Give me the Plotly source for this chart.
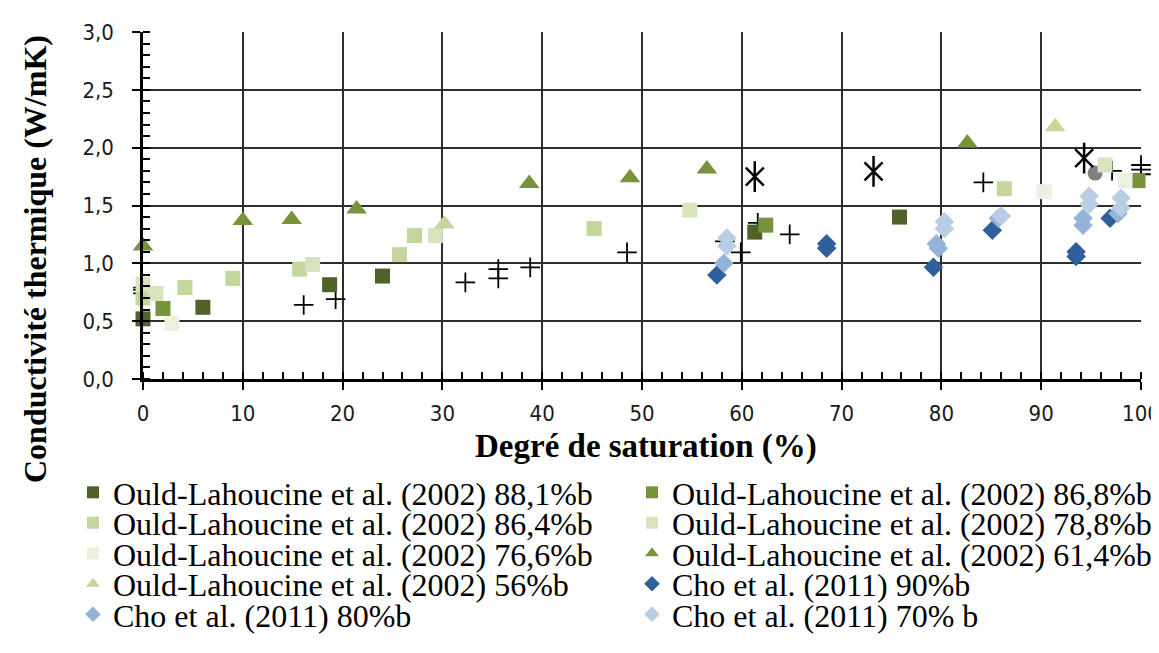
import plotly.graph_objects as go

# ---------------- data ----------------
x_tick_vals = [0, 10, 20, 30, 40, 50, 60, 70, 80, 90, 100]
x_tick_text = ["0", "10", "20", "30", "40", "50", "60", "70", "80", "90", "100"]
y_tick_vals = [0.0, 0.5, 1.0, 1.5, 2.0, 2.5, 3.0]
y_tick_text = ["0,0", "0,5", "1,0", "1,5", "2,0", "2,5", "3,0"]

names = [
    "Ould-Lahoucine et al. (2002) 88,1%b",
    "Ould-Lahoucine et al. (2002) 86,8%b",
    "Ould-Lahoucine et al. (2002) 86,4%b",
    "Ould-Lahoucine et al. (2002) 78,8%b",
    "Ould-Lahoucine et al. (2002) 76,6%b",
    "Ould-Lahoucine et al. (2002) 61,4%b",
    "Ould-Lahoucine et al. (2002) 56%b",
    "Cho et al. (2011) 90%b",
    "Cho et al. (2011) 80%b",
    "Cho et al. (2011) 70% b",
]

ol881_x = [0, 6.0, 18.7, 24.0, 61.3, 75.8]
ol881_y = [0.52, 0.62, 0.815, 0.89, 1.27, 1.40]

ol868_x = [2.0, 62.4, 99.7]
ol868_y = [0.61, 1.33, 1.715]

ol864_x = [0, 4.2, 9.0, 15.7, 25.7, 27.2, 45.2, 86.3]
ol864_y = [0.70, 0.79, 0.87, 0.95, 1.075, 1.24, 1.30, 1.645]

ol788_x = [0, 1.3, 17.0, 29.3, 54.8, 96.4]
ol788_y = [0.82, 0.74, 0.99, 1.24, 1.46, 1.85]

ol766_x = [2.9, 90.3, 98.4]
ol766_y = [0.48, 1.62, 1.715]

ol614_x = [0, 10, 14.9, 21.4, 38.7, 48.8, 56.5, 82.6]
ol614_y = [1.15, 1.37, 1.38, 1.47, 1.69, 1.74, 1.815, 2.04]

ol56_x = [30.2, 91.4]
ol56_y = [1.34, 2.18]

cho90_x = [57.5, 68.5, 68.5, 79.2, 85.1, 93.5, 93.5, 96.9]
cho90_y = [0.90, 1.13, 1.17, 0.966, 1.285, 1.06, 1.10, 1.39]

cho80_x = [58.2, 79.7, 79.5, 85.7, 94.2, 94.2, 97.7]
cho80_y = [1.00, 1.13, 1.17, 1.39, 1.33, 1.39, 1.43]

cho70_x = [58.5, 58.5, 80.3, 80.3, 86.0, 94.8, 94.8, 98.0, 98.0]
cho70_y = [1.22, 1.15, 1.30, 1.36, 1.41, 1.51, 1.58, 1.48, 1.565]

plus_x = [0, 0, 0, 16.1, 19.3, 32.3, 35.6, 35.6, 38.8, 48.5, 58.3, 59.9, 61.6, 64.8, 84.2, 97.1, 100, 100, 100]
plus_y = [0.79, 0.77, 0.74, 0.64, 0.69, 0.835, 0.87, 0.95, 0.965, 1.095, 1.19, 1.095, 1.35, 1.25, 1.70, 1.80, 1.85, 1.81, 1.77]

star_x = [61.3, 73.2, 94.3]
star_y = [1.75, 1.795, 1.91]

circle_x = [95.4]
circle_y = [1.78]

# ---------------- styles ----------------
series = [
    (ol881_x, ol881_y, "square", "#4F6228", 15),
    (ol868_x, ol868_y, "square", "#77933C", 15),
    (ol864_x, ol864_y, "square", "#C3D69B", 15),
    (ol788_x, ol788_y, "square", "#D7E4BD", 15),
    (ol766_x, ol766_y, "square", "#EBF1DE", 15),
    (ol614_x, ol614_y, "triangle-up", "#77933C", 18),
    (ol56_x, ol56_y, "triangle-up", "#C3D69B", 18),
    (cho90_x, cho90_y, "diamond", "#30609C", 15),
    (cho80_x, cho80_y, "diamond", "#95B3D7", 15),
    (cho70_x, cho70_y, "diamond", "#B9CDE5", 15),
]

fig = go.Figure()

# unlabeled series (drawn first)
fig.add_trace(go.Scatter(x=plus_x, y=plus_y, mode="markers", showlegend=False, cliponaxis=False,
                         marker=dict(symbol="cross-thin-open", size=14, color="black",
                                     line=dict(color="black", width=1.8))))
fig.add_trace(go.Scatter(x=circle_x, y=circle_y, mode="markers", showlegend=False, cliponaxis=False,
                         marker=dict(symbol="circle", size=15, color="#808080")))

legend_ids = ["legend"] + ["legend%d" % (i + 1) for i in range(1, len(series))]
for i, (xs, ys, sym, col, sz) in enumerate(series):
    fig.add_trace(go.Scatter(x=xs, y=ys, mode="markers", name=names[i], cliponaxis=False,
                             legend=legend_ids[i],
                             marker=dict(symbol=sym, size=sz, color=col, line=dict(width=0))))

fig.add_trace(go.Scatter(x=star_x, y=star_y, mode="markers", showlegend=False, cliponaxis=False,
                         marker=dict(symbol="x-thin-open", size=18, color="black",
                                     line=dict(color="black", width=2.5))))
fig.add_trace(go.Scatter(x=star_x, y=star_y, mode="markers", showlegend=False, cliponaxis=False,
                         marker=dict(symbol="line-ns-open", size=22, color="black",
                                     line=dict(color="black", width=2.5))))

# ---------------- layout ----------------
L, R, T, B = 135, 26, 24, 282
W, H = 1159, 653
ph = H - T - B
pw = W - L - R

def px2x(p):
    return (p - L) / pw

def py2y(p):
    return (H - B - p) / ph

legend_font = dict(family="Liberation Serif, Times New Roman, serif", size=32, color="black")
row_centers = [484, 514.5, 545, 575.5, 606]
col_text_start = [105, 664]
layout_legends = {}
for i, lid in enumerate(legend_ids):
    col = i % 2
    row = i // 2
    layout_legends[lid] = dict(
        x=px2x(col_text_start[col] - 40), xanchor="left",
        y=py2y(row_centers[row] - 27), yanchor="top",
        font=legend_font, bgcolor="rgba(0,0,0,0)", borderwidth=0,
        itemsizing="constant", itemclick=False,
    )

tick_font = dict(family="DejaVu Sans Condensed, Liberation Sans Narrow, DejaVu Sans, sans-serif",
                 size=22, color="#1a1a1a")
grid_col = "#2e2e2e"

fig.update_layout(
    width=W, height=H,
    margin=dict(l=L, r=R, t=T, b=B, autoexpand=False),
    paper_bgcolor="white", plot_bgcolor="white",
    showlegend=True,
    **layout_legends,
    xaxis=dict(range=[0, 100], tickvals=x_tick_vals, ticktext=x_tick_text,
               showgrid=True, gridcolor=grid_col, gridwidth=1.6,
               showline=True, linecolor="black", linewidth=2.5,
               ticks="outside", ticklen=8, tickwidth=2, tickcolor="black",
               minor=dict(dtick=2, ticks="inside", ticklen=7, tickwidth=1.5, tickcolor="black", showgrid=False),
               tickfont=tick_font, ticklabelstandoff=5, zeroline=False, fixedrange=True),
    yaxis=dict(range=[0, 3], tickvals=y_tick_vals, ticktext=y_tick_text,
               showgrid=True, gridcolor=grid_col, gridwidth=1.6,
               showline=True, linecolor="black", linewidth=2.5,
               ticks="outside", ticklen=8, tickwidth=2, tickcolor="black",
               minor=dict(dtick=0.1, ticks="inside", ticklen=7, tickwidth=1.5, tickcolor="black", showgrid=False),
               tickfont=tick_font, ticklabelstandoff=14, zeroline=False, fixedrange=True),
    annotations=[
        dict(text="<b>Degré de saturation (%)</b>", xref="paper", yref="paper",
             x=px2x(638), y=py2y(438), xanchor="center", yanchor="middle", showarrow=False,
             font=dict(family="Liberation Serif, Times New Roman, serif", size=33, color="black")),
        dict(text="<b>Conductivité thermique (W/mK)</b>", xref="paper", yref="paper",
             x=px2x(27), y=py2y(251), xanchor="center", yanchor="middle", showarrow=False,
             textangle=-90,
             font=dict(family="Liberation Serif, Times New Roman, serif", size=32, color="black")),
    ],
)

fig.write_html("out.html")
